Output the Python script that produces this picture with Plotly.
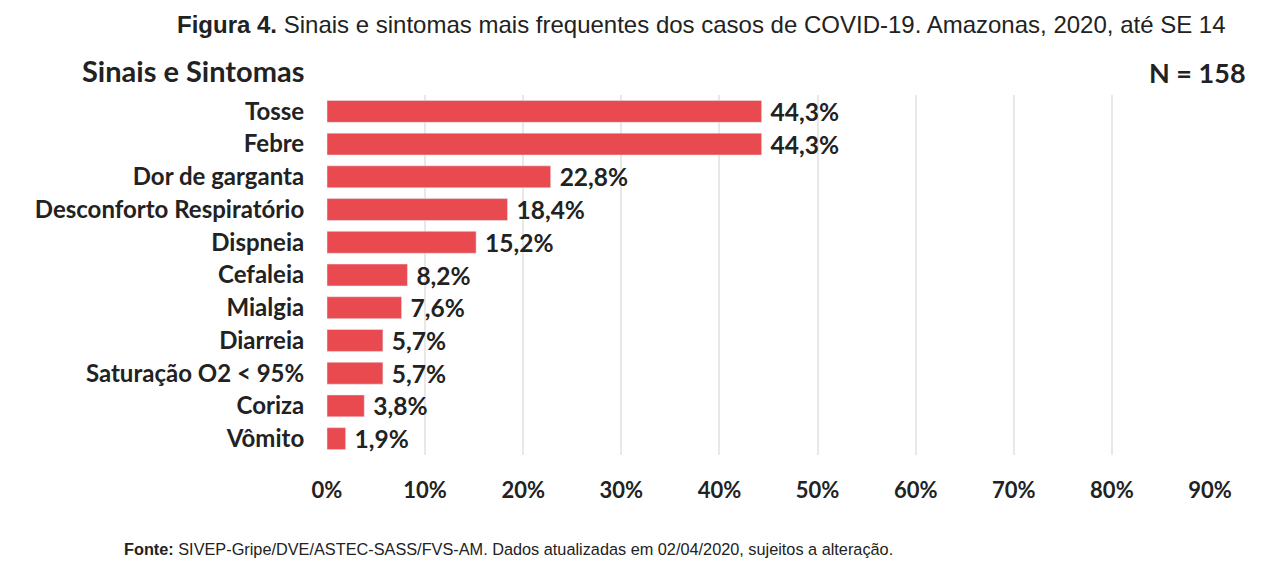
import plotly.graph_objects as go

# dados (Amazonas, 2020, até SE 14)
sintomas = [
    "Tosse", "Febre", "Dor de garganta", "Desconforto Respiratório", "Dispneia",
    "Cefaleia", "Mialgia", "Diarreia", "Saturação O2 < 95%", "Coriza", "Vômito",
]
percentuais = [44.3, 44.3, 22.8, 18.4, 15.2, 8.2, 7.6, 5.7, 5.7, 3.8, 1.9]
x_ticks = [0, 10, 20, 30, 40, 50, 60, 70, 80, 90]
x_tick_labels = [f"{t}%" for t in x_ticks]

BAR_COLOR = "#E84A50"
CAL = "Lato, 'Open Sans', sans-serif"
ARIAL = "'Liberation Sans', Arial, sans-serif"

# page body has an 8px margin; plot area lands at x 327..1210, y 95..455 on screen
def px(sx):
    return (sx - 327) / 883


def py(sy):
    return (455 - sy) / 360


rotulos = [" " + f"{v:.1f}%".replace(".", ",") for v in percentuais]

fig = go.Figure(
    go.Bar(
        x=percentuais,
        y=sintomas,
        orientation="h",
        marker_color=BAR_COLOR,
        text=rotulos,
        textposition="outside",
        constraintext="none",
        textfont=dict(family=CAL, size=24.5, color="#222222", weight="bold"),
        cliponaxis=False,
        hoverinfo="skip",
    )
)

fig.update_xaxes(
    range=[0, 90],
    tickvals=x_ticks,
    ticktext=x_tick_labels,
    showgrid=True,
    gridcolor="#e8e8e8",
    gridwidth=2,
    zeroline=False,
    ticks="outside",
    ticklen=16,
    tickcolor="rgba(0,0,0,0)",
    tickfont=dict(family=CAL, size=22, color="#222222", weight="bold"),
    showline=False,
)
fig.update_yaxes(
    autorange="reversed",
    showgrid=False,
    ticks="outside",
    ticklen=17,
    tickcolor="rgba(0,0,0,0)",
    tickfont=dict(family=CAL, size=24, color="#222222", weight="bold"),
)

fig.add_annotation(
    text="<b>Figura 4.</b> Sinais e sintomas mais frequentes dos casos de COVID-19. Amazonas, 2020, até SE 14",
    xref="paper", yref="paper", x=px(701), y=py(24), xanchor="center", yanchor="middle",
    showarrow=False, font=dict(family=ARIAL, size=24, color="#222222"),
)
fig.add_annotation(
    text="<b>Sinais e Sintomas</b>",
    xref="paper", yref="paper", x=px(80), y=py(70), xanchor="left", yanchor="middle",
    showarrow=False, font=dict(family=CAL, size=29, color="#222222"),
)
fig.add_annotation(
    text="<b>N = 158</b>",
    xref="paper", yref="paper", x=px(1248), y=py(72), xanchor="right", yanchor="middle",
    showarrow=False, font=dict(family=CAL, size=27, color="#222222"),
)
fig.add_annotation(
    text="<b>Fonte:</b> SIVEP-Gripe/DVE/ASTEC-SASS/FVS-AM. Dados atualizadas em 02/04/2020, sujeitos a alteração.",
    xref="paper", yref="paper", x=px(122), y=py(549), xanchor="left", yanchor="middle",
    showarrow=False, font=dict(family=ARIAL, size=16.3, color="#222222"),
)

fig.update_layout(
    width=1280,
    height=569,
    margin=dict(l=319, r=78, t=87, b=122),
    plot_bgcolor="white",
    paper_bgcolor="white",
    bargap=0.33,
    showlegend=False,
)

fig.write_html("out.html")
